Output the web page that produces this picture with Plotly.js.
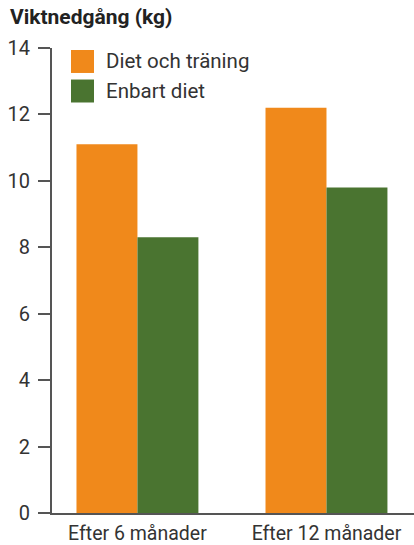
<!DOCTYPE html>
<html>
<head>
<meta charset="utf-8">
<script src="https://cdn.plot.ly/plotly-3.0.1.min.js"></script>
<style>html,body{margin:0;padding:0;background:#fff;}#chart{width:414px;height:545px;}</style>
</head>
<body>
<div id="chart"></div>
<script>
const categories = ["Efter 6 månader", "Efter 12 månader"];
const seriesNames = ["Diet och träning", "Enbart diet"];
const dietTraining = [11.1, 12.2];
const dietOnly = [8.3, 9.8];
const yTicks = [0, 2, 4, 6, 8, 10, 12, 14];
const colors = ["#F0891B", "#4A7430"];

const FONT = "Roboto, 'DejaVu Sans', sans-serif";
const TEXT = "#333333";
const AXIS = "#555555";

const traces = [
  {type: "bar", x: categories, y: dietTraining, name: seriesNames[0], marker: {color: colors[0]}, hoverinfo: "none"},
  {type: "bar", x: categories, y: dietOnly, name: seriesNames[1], marker: {color: colors[1]}, hoverinfo: "none"}
];

// custom legend (large square swatches)
const legendRows = [0.971, 0.9075];
const shapes = [];
const annotations = [];
seriesNames.forEach((n, i) => {
  const yc = legendRows[i];
  shapes.push({type: "rect", xref: "paper", yref: "paper", x0: 0.0525, x1: 0.116,
    y0: yc - 0.0247, y1: yc + 0.0247, fillcolor: colors[i], line: {width: 0}});
  annotations.push({xref: "paper", yref: "paper", x: 0.1436, y: yc, xanchor: "left", yanchor: "middle",
    text: n, showarrow: false, font: {family: FONT, size: 20.5, color: TEXT}});
});

const layout = {
  width: 414, height: 545,
  margin: {l: 52, r: 0, t: 48, b: 32},
  paper_bgcolor: "#fff", plot_bgcolor: "#fff",
  showlegend: false,
  barmode: "group", bargap: 0.355, bargroupgap: 0,
  title: {text: "<b>Viktnedgång (kg)</b>", xref: "container", yref: "container", x: 0.024, xanchor: "left",
    y: 0.969, yanchor: "middle", font: {family: FONT, size: 21, color: "#222"}},
  xaxis: {type: "category", range: [-0.452, 1.463], showline: true, linecolor: AXIS, linewidth: 2,
    ticks: "", showgrid: false, zeroline: false, tickfont: {family: FONT, size: 19.5, color: TEXT}, ticklabelstandoff: 2},
  yaxis: {range: [0, 14], tickvals: yTicks, ticktext: yTicks.map(String), showline: true, linecolor: AXIS, linewidth: 2,
    ticks: "outside", ticklen: 12, tickwidth: 2, tickcolor: AXIS, showgrid: false, zeroline: false,
    tickfont: {family: FONT, size: 20, color: TEXT}, ticklabelstandoff: 4},
  shapes: shapes, annotations: annotations
};

Plotly.newPlot("chart", traces, layout, {displayModeBar: false, staticPlot: true});
</script>
</body>
</html>
